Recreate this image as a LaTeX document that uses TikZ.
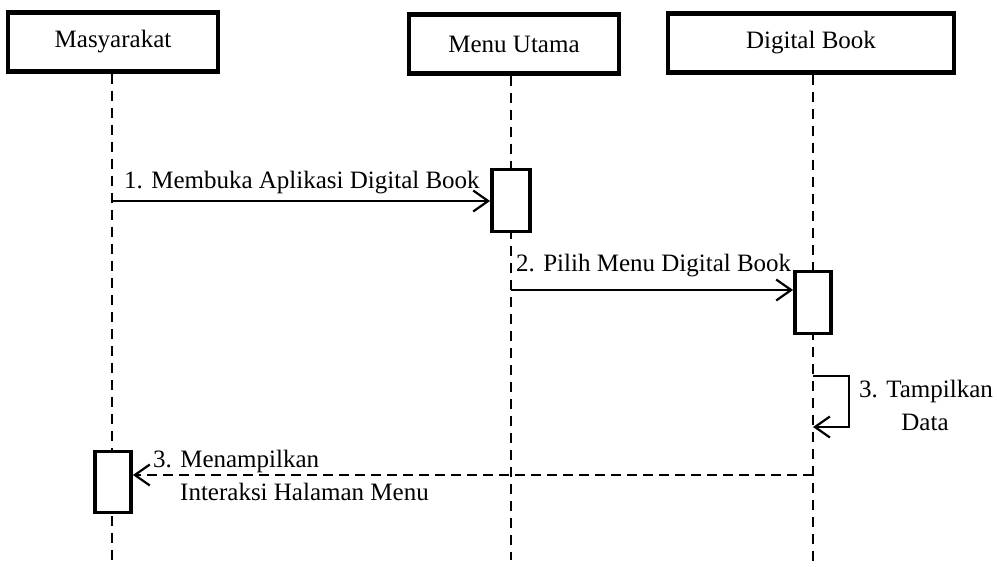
\documentclass[tikz,border=0pt]{standalone}
\usepackage{fontspec}
\setmainfont{Liberation Serif}
\usetikzlibrary{arrows.meta}
\begin{document}
\begin{tikzpicture}[x=1pt,y=-1pt,
  head/.style={draw,line width=4.5pt,minimum height=59pt,inner sep=0pt,font=\fontsize{25}{28}\selectfont},
  act/.style={draw,line width=3.8pt,fill=white,inner sep=0pt},
  life/.style={line width=2.3pt,dash pattern=on 10pt off 7pt},
  msg/.style={line width=2.2pt,-{Straight Barb[length=15pt,width=21pt,line width=2.2pt]}},
  ret/.style={msg,dash pattern=on 10pt off 6pt},
  lbl/.style={inner sep=0pt,font=\fontsize{25}{28}\selectfont}]
\useasboundingbox (0,0) rectangle (997,567);
% headers
\node[head,minimum width=210pt] (mas) at (113,42) {Masyarakat};
\node[head,minimum width=210pt] (menu) at (514,44) {Menu Utama};
\node[head,minimum width=286pt] (db) at (811,43) {Digital Book};
% lifeline ends
\coordinate (masE) at (112,560);
\coordinate (menuE) at (511,560);
\coordinate (dbE) at (813,562);
\draw[life] (mas.south -| masE) -- (masE);
\draw[life] (menu.south -| menuE) -- (menuE);
\draw[life] (db.south -| dbE) -- (dbE);
% activations
\node[act,minimum width=38pt,minimum height=62pt] (a1) at (511,200.5) {};
\node[act,minimum width=36pt,minimum height=62pt] (a2) at (813,302.5) {};
\node[act,minimum width=36pt,minimum height=61pt] (a3) at (113,482) {};
% message 1
\coordinate (m1) at (112,201);
\draw[msg] (m1) -- (a1.west |- m1);
\node[lbl,anchor=base west] (l1) at (124,189) {1. Membuka Aplikasi Digital Book};
% message 2
\coordinate (m2) at (511,290);
\draw[msg] (m2) -- (a2.west |- m2);
\node[lbl,anchor=base west] (l2) at (516,271) {2. Pilih Menu Digital Book};
% self message
\coordinate (s1) at (813,376);
\coordinate (s2) at (849,376);
\coordinate (s3) at (849,427);
\coordinate (s4) at (813,427);
\draw[msg] (s1) -- (s2) -- (s3) -- (s4);
\node[lbl,anchor=base] (l3a) at (926,397) {3. Tampilkan};
\node[lbl,anchor=base] (l3b) at (925,430) {Data};
% return
\coordinate (r1) at (813,475);
\draw[ret] (r1) -- (a3.east |- r1);
\node[lbl,anchor=base west] (l4a) at (153,467) {3. Menampilkan};
\node[lbl,anchor=base west] (l4b) at (180,500) {Interaksi Halaman Menu};
\end{tikzpicture}
\end{document}
